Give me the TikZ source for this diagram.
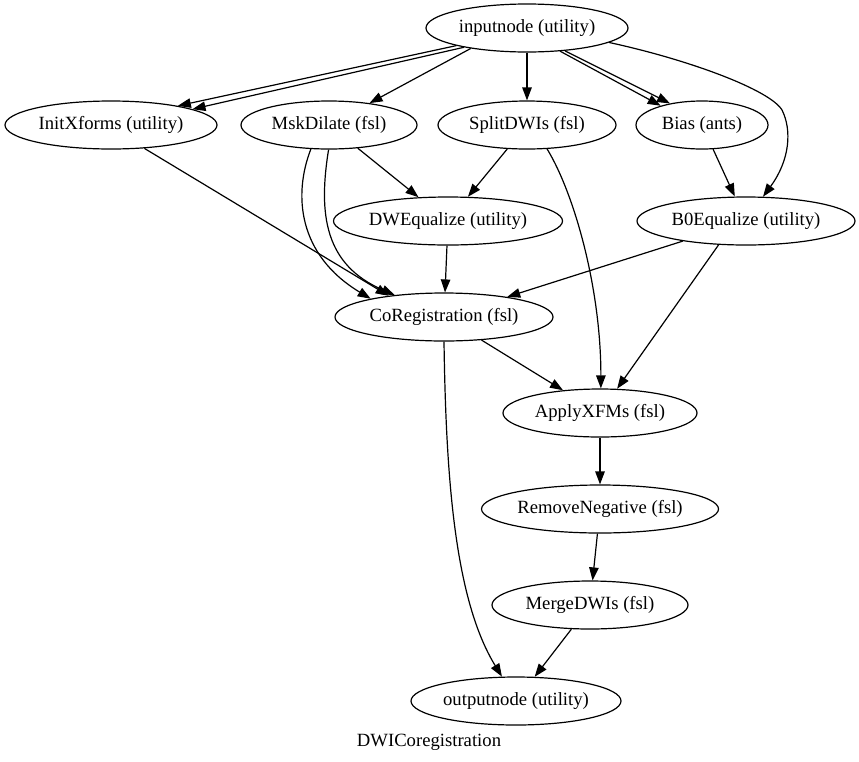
\documentclass[tikz,border=0pt]{standalone}
\usepackage{fontspec}
\setmainfont{Liberation Serif}
\usetikzlibrary{shapes.geometric,arrows.meta}
\begin{document}
\begin{tikzpicture}[x=1pt,y=-1pt,
  nd/.style={draw,ellipse,line width=1.2pt,inner sep=0pt,minimum height=48pt,
    font=\fontsize{18.67pt}{22pt}\selectfont},
  edge/.style={draw,line width=1.2pt,-{Triangle[length=13pt,width=9.5pt]}},
  lbl/.style={font=\fontsize{18.67pt}{22pt}\selectfont,inner sep=0pt}]
\fill[white] (0,0) rectangle (859,761);
\useasboundingbox (0,0) rectangle (859,761);

\node[nd,minimum width=202pt] (inp)    at (527,28)  {inputnode (utility)};
\node[nd,minimum width=212pt] (ix)     at (111,125) {InitXforms (utility)};
\node[nd,minimum width=176pt] (msk)    at (329,125) {MskDilate (fsl)};
\node[nd,minimum width=178pt] (split)  at (527,125) {SplitDWIs (fsl)};
\node[nd,minimum width=132pt] (bias)   at (702,125) {Bias (ants)};
\node[nd,minimum width=229pt] (dweq)   at (448,221) {DWEqualize (utility)};
\node[nd,minimum width=218pt] (b0eq)   at (746,221) {B0Equalize (utility)};
\node[nd,minimum width=218pt] (coreg)  at (444,317) {CoRegistration (fsl)};
\node[nd,minimum width=194pt] (apply)  at (600,413) {ApplyXFMs (fsl)};
\node[nd,minimum width=237pt] (remneg) at (600,509) {RemoveNegative (fsl)};
\node[nd,minimum width=196pt] (merge)  at (590,605) {MergeDWIs (fsl)};
\node[nd,minimum width=210pt] (out)    at (516,701) {outputnode (utility)};
\node[lbl,anchor=base] (title) at (429,746) {DWICoregistration};

% inputnode edges
\draw[edge] (inp.-166) -- (ix.16);
\draw[edge] (inp.-163) -- (ix.11);
\draw[edge] (inp.-160) -- (msk);
\draw[edge] (inp) -- (split);
\draw[edge] (inp.-35) -- (bias.155);
\draw[edge] (inp.-31) -- (bias.146);
\draw[edge] (inp.-10) .. controls (690,60) and (770,90) .. (782,110)
                     .. controls (792,130) and (790,160) .. (b0eq.55);

% second layer
\draw[edge] (ix.-35) -- (coreg.159);
\draw[edge] (msk) -- (dweq);
\draw[edge] (msk.-127) .. controls (293,195) and (298,255) .. (coreg.166);
\draw[edge] (msk.-91) .. controls (318,215) and (325,265) .. (coreg.156);
\draw[edge] (split) -- (dweq);
\draw[edge] (split.-50) .. controls (575,195) and (601,290) .. (apply.88);
\draw[edge] (bias) -- (b0eq);

% third layer
\draw[edge] (dweq) -- (coreg);
\draw[edge] (b0eq) -- (coreg);
\draw[edge] (b0eq.-139) -- (apply);
\draw[edge] (coreg) -- (apply);
\draw[edge] (coreg.-90) .. controls (446,480) and (455,600) .. (out.120);
\draw[edge] (apply) -- (remneg);
\draw[edge] (remneg) -- (merge);
\draw[edge] (merge) -- (out);
\end{tikzpicture}
\end{document}
